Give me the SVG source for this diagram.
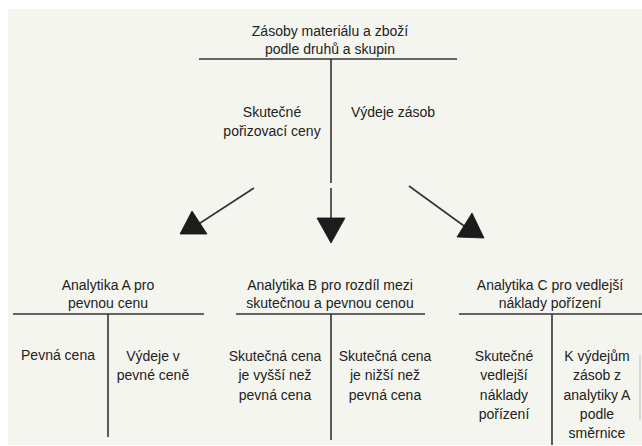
<svg xmlns="http://www.w3.org/2000/svg" width="642" height="446" viewBox="0 0 642 446">
<style>
text{font-family:"Liberation Sans",Arial,sans-serif;font-size:14px;fill:#222;text-anchor:middle}
.l{stroke:#333;stroke-width:1.6;fill:none}
.a{fill:#1c1c1c;stroke:#111;stroke-width:0.8}
</style>
<rect x="8" y="9" width="634" height="436" fill="#f5f5f0"/>
<g id="zasoby">
<text x="330" y="36">Zásoby materiálu a zboží</text>
<text x="330" y="54">podle druhů a skupin</text>
<line class="l" x1="199" y1="59" x2="457" y2="59"/>
<line class="l" x1="331" y1="59" x2="331" y2="183"/>
<text x="272" y="117">Skutečné</text>
<text x="272" y="136">pořizovací ceny</text>
<text x="393" y="117">Výdeje zásob</text>
</g>
<g id="connectors">
<line class="l" x1="254" y1="188" x2="194" y2="227"/>
<polygon class="a" points="192,211 180,234 207,234"/>
<line class="l" x1="331" y1="188" x2="331" y2="222"/>
<polygon class="a" points="317,218 345,218 331,243"/>
<line class="l" x1="409" y1="186" x2="471" y2="231"/>
<polygon class="a" points="472,213 457,237 484,238"/>
</g>
<g id="analytikaA">
<text x="108" y="290">Analytika A pro</text>
<text x="108" y="308">pevnou cenu</text>
<line class="l" x1="13" y1="314" x2="204" y2="314"/>
<line class="l" x1="108" y1="314" x2="108" y2="437"/>
<text x="58" y="360">Pevná cena</text>
<text x="153" y="361">Výdeje v</text>
<text x="153" y="380">pevné ceně</text>
</g>
<g id="analytikaB">
<text x="330" y="290">Analytika B pro rozdíl mezi</text>
<text x="330" y="308">skutečnou a pevnou cenou</text>
<line class="l" x1="236" y1="314" x2="425" y2="314"/>
<line class="l" x1="331" y1="314" x2="331" y2="440"/>
<text x="275" y="361">Skutečná cena</text>
<text x="275" y="380">je vyšší než</text>
<text x="275" y="400">pevná cena</text>
<text x="385" y="361">Skutečná cena</text>
<text x="385" y="380">je nižší než</text>
<text x="385" y="400">pevná cena</text>
</g>
<g id="analytikaC">
<text x="550" y="290">Analytika C pro vedlejší</text>
<text x="550" y="308">náklady pořízení</text>
<line class="l" x1="459" y1="314" x2="642" y2="314"/>
<line class="l" x1="552" y1="314" x2="552" y2="445"/>
<text x="504" y="361">Skutečné</text>
<text x="504" y="380">vedlejší</text>
<text x="504" y="400">náklady</text>
<text x="504" y="419">pořízení</text>
<text x="597" y="361">K výdejům</text>
<text x="597" y="380">zásob z</text>
<text x="597" y="400">analytiky A</text>
<text x="597" y="419">podle</text>
<text x="597" y="438">směrnice</text>
<line x1="640" y1="355" x2="640" y2="420" stroke="#bbb" stroke-width="1"/>
</g>
</svg>
